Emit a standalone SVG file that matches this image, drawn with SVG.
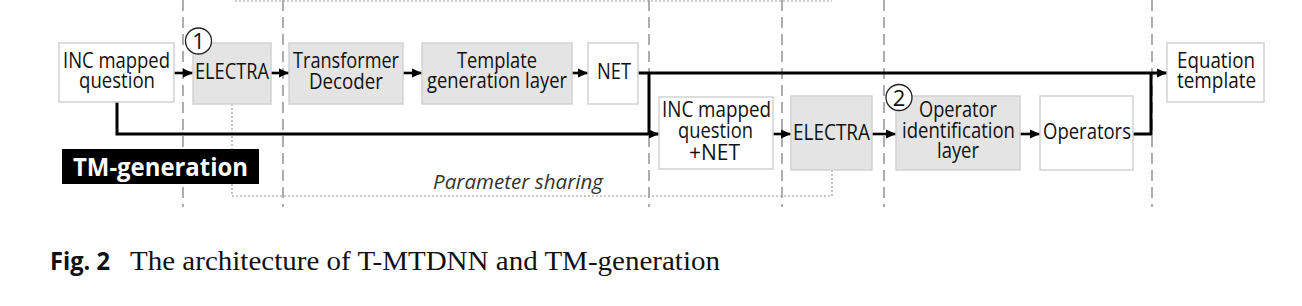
<svg xmlns="http://www.w3.org/2000/svg" width="1302" height="306" viewBox="0 0 1302 306">
<style>
.g{fill:#e4e4e4;stroke:#d2d2d2;stroke-width:1.5}
.w{fill:#fff;stroke:#d2d2d2;stroke-width:1.5}
.t{font-family:"Open Sans","Noto Sans",sans-serif;font-size:22px;fill:#111;text-anchor:middle}
.dash{stroke:#9a9a9a;stroke-width:1.6;stroke-dasharray:11 6;fill:none}
.dot{stroke:#9a9a9a;stroke-width:1.2;stroke-dasharray:2 2;fill:none}
.c{stroke:#000;stroke-width:3;fill:none}
.a{stroke:#000;stroke-width:2.6;fill:none}
.num{fill:#fff;stroke:#222;stroke-width:1.3}
</style>
<defs>
<marker id="ah" markerUnits="userSpaceOnUse" markerWidth="10" markerHeight="10" viewBox="0 0 10 10" refX="10" refY="5" orient="auto">
<path d="M0,0.5 L10,5 L0,9.5 Z" fill="#000"/>
</marker>
</defs>
<rect width="1302" height="306" fill="#fff"/>

<g id="guides">
<line class="dash" x1="183" y1="0" x2="183" y2="207"/>
<line class="dash" x1="283" y1="0" x2="283" y2="207"/>
<line class="dash" x1="649" y1="0" x2="649" y2="207"/>
<line class="dash" x1="782" y1="0" x2="782" y2="207"/>
<line class="dash" x1="884" y1="0" x2="884" y2="207"/>
<line class="dash" x1="1152" y1="0" x2="1152" y2="207"/>
<line class="dot" x1="235" y1="1" x2="832" y2="1"/>
<path class="dot" d="M232,104 V196 H832 V170"/>
</g>

<g id="connectors">
<line class="a" x1="174" y1="73" x2="193" y2="73" marker-end="url(#ah)"/>
<line class="a" x1="271" y1="73" x2="289" y2="73" marker-end="url(#ah)"/>
<line class="a" x1="403" y1="73" x2="422" y2="73" marker-end="url(#ah)"/>
<line class="a" x1="572" y1="73" x2="588" y2="73" marker-end="url(#ah)"/>
<line class="c" x1="638" y1="73" x2="1167" y2="73" marker-end="url(#ah)"/>
<path class="c" d="M649,73 V134"/>
<path class="c" d="M117,102 V134 H659" marker-end="url(#ah)"/>
<line class="a" x1="773" y1="134" x2="791" y2="134" marker-end="url(#ah)"/>
<line class="a" x1="872" y1="134" x2="896" y2="134" marker-end="url(#ah)"/>
<line class="a" x1="1020" y1="134" x2="1040" y2="134" marker-end="url(#ah)"/>
<path class="c" d="M1133,134 H1151 V73"/>
</g>

<g id="n-question">
<rect class="w" x="59" y="43" width="115" height="59"/>
<text class="t" x="116.5" y="68" textLength="107" lengthAdjust="spacingAndGlyphs">INC mapped</text>
<text class="t" x="117" y="88" textLength="76" lengthAdjust="spacingAndGlyphs">question</text>
</g>
<g id="n-electra1">
<rect class="g" x="193" y="43" width="78" height="61"/>
<text class="t" x="232" y="79" textLength="74" lengthAdjust="spacingAndGlyphs">ELECTRA</text>
</g>
<g id="n-mark1">
<circle class="num" cx="198.5" cy="41" r="13"/>
<text class="t" x="198.5" y="49" font-size="21">1</text>
</g>
<g id="n-decoder">
<rect class="g" x="289" y="43" width="114" height="61"/>
<text class="t" x="346" y="68" textLength="106" lengthAdjust="spacingAndGlyphs">Transformer</text>
<text class="t" x="346" y="89" textLength="74" lengthAdjust="spacingAndGlyphs">Decoder</text>
</g>
<g id="n-template-layer">
<rect class="g" x="422" y="43" width="150" height="61"/>
<text class="t" x="497" y="68" textLength="80" lengthAdjust="spacingAndGlyphs">Template</text>
<text class="t" x="497" y="88" textLength="140" lengthAdjust="spacingAndGlyphs">generation layer</text>
</g>
<g id="n-net">
<rect class="w" x="588" y="43" width="50" height="61"/>
<text class="t" x="614" y="79" textLength="34" lengthAdjust="spacingAndGlyphs">NET</text>
</g>
<g id="n-question-net">
<rect class="w" x="659" y="97" width="114" height="72"/>
<text class="t" x="716.5" y="117" textLength="109" lengthAdjust="spacingAndGlyphs">INC mapped</text>
<text class="t" x="715.5" y="138" textLength="75" lengthAdjust="spacingAndGlyphs">question</text>
<text class="t" x="714.5" y="160" textLength="51" lengthAdjust="spacingAndGlyphs">+NET</text>
</g>
<g id="n-electra2">
<rect class="g" x="791" y="96" width="81" height="74"/>
<text class="t" x="831.5" y="140" textLength="77" lengthAdjust="spacingAndGlyphs">ELECTRA</text>
</g>
<g id="n-operator-layer">
<rect class="g" x="896" y="96" width="124" height="74"/>
<text class="t" x="958" y="117" textLength="78" lengthAdjust="spacingAndGlyphs">Operator</text>
<text class="t" x="958.5" y="138" textLength="113" lengthAdjust="spacingAndGlyphs">identification</text>
<text class="t" x="958" y="158" textLength="42" lengthAdjust="spacingAndGlyphs">layer</text>
</g>
<g id="n-mark2">
<circle class="num" cx="899" cy="97.5" r="13"/>
<text class="t" x="899" y="105.5" font-size="21">2</text>
</g>
<g id="n-operators">
<rect class="w" x="1040" y="96" width="93" height="74"/>
<text class="t" x="1087" y="139" textLength="88" lengthAdjust="spacingAndGlyphs">Operators</text>
</g>
<g id="n-equation">
<rect class="w" x="1167" y="43" width="97" height="59"/>
<text class="t" x="1216" y="68" textLength="78" lengthAdjust="spacingAndGlyphs">Equation</text>
<text class="t" x="1216.5" y="88" textLength="79" lengthAdjust="spacingAndGlyphs">template</text>
</g>
<g id="n-tm-generation">
<rect x="62" y="149" width="197" height="35" fill="#000"/>
<text x="160.5" y="176" font-family="'Open Sans','Noto Sans',sans-serif" font-weight="bold" font-size="25" fill="#fff" text-anchor="middle" textLength="175" lengthAdjust="spacingAndGlyphs">TM-generation</text>
</g>
<g id="n-param">
<text x="518" y="189" font-family="'Open Sans','Noto Sans',sans-serif" font-style="italic" font-size="20" fill="#333" text-anchor="middle" textLength="170" lengthAdjust="spacingAndGlyphs">Parameter sharing</text>
</g>
<g id="caption">
<text x="50" y="270" font-family="'Open Sans','Noto Sans',sans-serif" font-weight="bold" font-size="25" fill="#111" textLength="60" lengthAdjust="spacingAndGlyphs">Fig. 2</text>
<text x="130" y="270" font-family="'Liberation Serif',serif" font-size="28" fill="#111" textLength="590" lengthAdjust="spacingAndGlyphs">The architecture of T-MTDNN and TM-generation</text>
</g>
</svg>
